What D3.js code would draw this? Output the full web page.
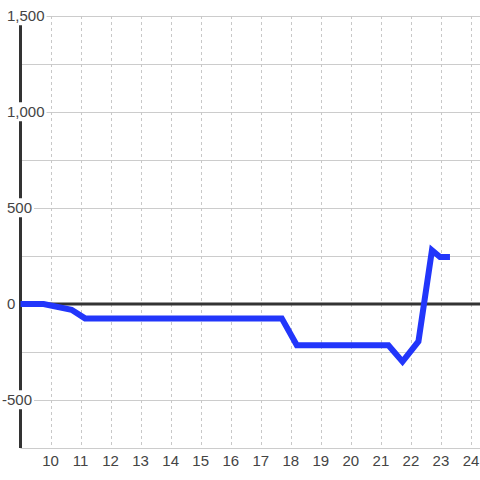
<!DOCTYPE html>
<html>
<head>
<meta charset="utf-8">
<script src="https://cdn.jsdelivr.net/npm/d3@7"></script>
<style>
  body { margin: 0; background: #fff; }
  text { font-family: "Liberation Sans", Arial, sans-serif; }
</style>
</head>
<body>
<div id="chart"></div>
<script>
// data
const weeks  = [9, 9.77, 10.7, 11.15, 17.7, 18.2, 21.25, 21.72, 22.25, 22.7, 22.97, 23.3];
const values = [0, 0, -30, -75, -75, -215, -215, -300, -195, 280, 245, 245];
const xTicks = [10, 11, 12, 13, 14, 15, 16, 17, 18, 19, 20, 21, 22, 23, 24];
const yLabelTicks = [1500, 1000, 500, 0, -500];
const yGridTicks = [1500, 1250, 1000, 750, 500, 250, 0, -250, -500, -750];

const width = 480;
const height = 480;

const svg = d3.select("#chart")
              .append("svg")
              .attr("width", width)
              .attr("height", height);

const x = d3.scaleLinear().domain([9, 24.3]).range([20.5, 480]);
const y = d3.scaleLinear().domain([-750, 1500]).range([448, 16]);

// horizontal grid
svg.append("g")
   .selectAll("line")
   .data(yGridTicks)
   .join("line")
   .attr("x1", x(9)).attr("x2", width)
   .attr("y1", d => Math.round(y(d)) + 0.5)
   .attr("y2", d => Math.round(y(d)) + 0.5)
   .attr("stroke", "#cccccc")
   .attr("stroke-width", 1);

// vertical dashed grid
svg.append("g")
   .selectAll("line")
   .data(xTicks)
   .join("line")
   .attr("x1", d => Math.round(x(d)) + 0.5)
   .attr("x2", d => Math.round(x(d)) + 0.5)
   .attr("y1", y(1500)).attr("y2", y(-750))
   .attr("stroke", "#c8c8c8")
   .attr("stroke-dasharray", "3,3")
   .attr("stroke-width", 1);

// y axis line
svg.append("line")
   .attr("x1", x(9)).attr("x2", x(9))
   .attr("y1", y(1500)).attr("y2", y(-750))
   .attr("stroke", "#333")
   .attr("stroke-width", 3);

// zero line
svg.append("line")
   .attr("x1", x(9)).attr("x2", width)
   .attr("y1", y(0)).attr("y2", y(0))
   .attr("stroke", "#333")
   .attr("stroke-width", 3);

// y labels with white backing
const fmt = d3.format(",");
const yLab = svg.append("g")
                .selectAll("g")
                .data(yLabelTicks)
                .join("g")
                .attr("transform", d => "translate(" + (d < 0 ? 2 : 7) + "," + y(d) + ")");

yLab.append("text")
    .attr("dy", "0.35em")
    .attr("font-size", 15)
    .attr("fill", "#444")
    .text(d => fmt(d).replace("−", "-"));

yLab.each(function() {
  const g = d3.select(this);
  const bb = g.select("text").node().getBBox();
  g.insert("rect", "text")
   .attr("x", bb.x - 2)
   .attr("y", bb.y - 1)
   .attr("width", bb.width + 4)
   .attr("height", bb.height + 2)
   .attr("fill", "#fff");
});

// data line
const line = d3.line()
               .x((d, i) => x(weeks[i]))
               .y(d => y(d));

svg.append("path")
   .datum(values)
   .attr("d", line)
   .attr("fill", "none")
   .attr("stroke", "#2236fb")
   .attr("stroke-width", 6);

// x labels
svg.append("g")
   .selectAll("text")
   .data(xTicks)
   .join("text")
   .attr("x", d => x(d))
   .attr("y", 461)
   .attr("dy", "0.35em")
   .attr("text-anchor", "middle")
   .attr("font-size", 15)
   .attr("fill", "#444")
   .text(d => d);
</script>
</body>
</html>
